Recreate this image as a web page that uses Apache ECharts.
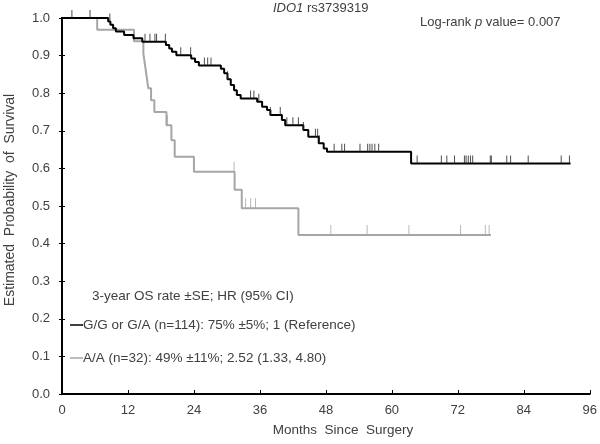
<!DOCTYPE html>
<html>
<head>
<meta charset="utf-8">
<script src="https://cdn.jsdelivr.net/npm/echarts@6/dist/echarts.min.js"></script>
<style>html,body{margin:0;padding:0;background:#fff}#c{width:600px;height:444px}</style>
</head>
<body>
<div id="c"></div>
<script>
// Kaplan-Meier steps: [month, survival]
var ggSteps = [
  [0, 1.0], [8.4, 0.991], [8.8, 0.982], [9.3, 0.973], [9.8, 0.964], [11.3, 0.955],
  [13.0, 0.946], [14.6, 0.937], [18.9, 0.928], [19.5, 0.919], [20.0, 0.910], [20.8, 0.901],
  [23.5, 0.892], [24.2, 0.883], [24.9, 0.874], [28.9, 0.865], [29.5, 0.853], [30.1, 0.837],
  [30.7, 0.822], [31.3, 0.808], [31.8, 0.795], [32.5, 0.786], [35.5, 0.777], [36.4, 0.764],
  [37.3, 0.755], [37.9, 0.742], [40.0, 0.729], [40.6, 0.715], [43.9, 0.702], [44.8, 0.684],
  [46.7, 0.667], [47.6, 0.653], [48.2, 0.644], [63.5, 0.613], [92.5, 0.613]
];
var ggCensor = [1.8, 5.1, 8.7, 15.1, 16.0, 16.9, 17.2, 18.8, 21.6, 23.4, 25.9, 26.5, 27.1,
  30.1, 34.3, 34.9, 35.8, 37.9, 39.7, 40.9, 42.0, 43.0, 43.9, 46.1, 46.5, 46.8, 49.5, 50.9,
  51.4, 54.2, 55.6, 56.0, 56.4, 56.9, 57.6, 64.6, 69.0, 70.0, 71.4, 73.2, 73.5, 73.9, 74.3,
  74.7, 77.9, 78.1, 80.9, 81.6, 84.8, 90.8, 92.3];
var aaSteps = [
  [0, 1.0], [6.4, 0.969], [13.1, 0.938], [14.8, 0.906], [15.1, 0.875], [15.4, 0.844],
  [15.7, 0.813], [16.2, 0.781], [16.8, 0.75], [19.0, 0.715], [19.9, 0.675], [20.5, 0.631],
  [24.0, 0.591], [31.4, 0.543], [32.7, 0.494], [43.0, 0.423], [78.0, 0.423]
];
var aaCensor = [19.2, 31.3, 33.4, 34.3, 35.2, 48.9, 55.5, 63.1, 72.5, 77.0, 77.7];
var xTicks = [0, 12, 24, 36, 48, 60, 72, 84, 96];
var yTicks = [0, 0.1, 0.2, 0.3, 0.4, 0.5, 0.6, 0.7, 0.8, 0.9, 1.0];

function survAt(steps, t) {
  var v = steps[0][1];
  for (var i = 0; i < steps.length; i++) { if (steps[i][0] <= t) v = steps[i][1]; }
  return v;
}
function censorPts(steps, times) { return times.map(function (t) { return [t, survAt(steps, t)]; }); }

var FONT = 'Liberation Sans, Arial, sans-serif';
var TXT = '#404040';
var chart = echarts.init(document.getElementById('c'), null, {renderer: 'canvas'});
var yAxisBase = {
  type: 'value', min: 0, max: 1, interval: 0.1,
  axisLine: {show: true, lineStyle: {color: '#000', width: 2}},
  splitLine: {show: false}
};
chart.setOption({
  animation: false,
  grid: {left: 62, right: 7, top: 18, bottom: 50, containLabel: false},
  xAxis: {
    type: 'value', min: 0, max: 96, interval: 12,
    axisLine: {show: true, lineStyle: {color: '#000', width: 2}},
    axisTick: {show: true, inside: true, length: 4, lineStyle: {color: '#000', width: 1}},
    axisLabel: {color: TXT, fontFamily: FONT, fontSize: 13, margin: 10,
      formatter: function (v) { return xTicks.indexOf(v) >= 0 ? String(v) : ''; }},
    splitLine: {show: false}
  },
  yAxis: [
    Object.assign({}, yAxisBase, {
      axisTick: {show: true, length: 3, lineStyle: {color: '#000', width: 1}},
      axisLabel: {color: TXT, fontFamily: FONT, fontSize: 13, margin: 12,
        formatter: function (v) { return yTicks.some(function (t) { return Math.abs(t - v) < 1e-9; }) ? v.toFixed(1) : ''; }}
    }),
    Object.assign({}, yAxisBase, {
      position: 'left',
      axisTick: {show: true, inside: true, length: 3, lineStyle: {color: '#000', width: 1}},
      axisLabel: {show: false}
    })
  ],
  series: [
    {type: 'line', step: 'end', data: aaSteps, showSymbol: false, symbol: 'none',
      lineStyle: {color: '#a6a6a6', width: 2}, z: 2},
    {type: 'line', step: 'end', data: ggSteps, showSymbol: false, symbol: 'none',
      lineStyle: {color: '#000', width: 2}, z: 3},
    {type: 'scatter', data: censorPts(aaSteps, aaCensor), symbol: 'rect', symbolSize: [1, 10],
      symbolOffset: [0, '-50%'], itemStyle: {color: '#a6a6a6'}, z: 2},
    {type: 'scatter', data: censorPts(ggSteps, ggCensor), symbol: 'rect', symbolSize: [1, 8],
      symbolOffset: [0, '-50%'], itemStyle: {color: '#222'}, z: 3}
  ],
  graphic: [
    {type: 'text', left: 273, top: 2, style: {rich: {i: {fontStyle: 'italic', fontFamily: FONT, fontSize: 13, fill: TXT}, n: {fontFamily: FONT, fontSize: 13, fill: TXT}},
      text: '{i|IDO1}{n| rs3739319}'}},
    {type: 'text', left: 420, top: 16, style: {rich: {i: {fontStyle: 'italic', fontFamily: FONT, fontSize: 13, fill: TXT}, n: {fontFamily: FONT, fontSize: 13, fill: TXT}},
      text: '{n|Log-rank }{i|p}{n| value= 0.007}'}},
    {type: 'text', left: 92, top: 289, style: {text: '3-year OS rate \u00b1SE; HR (95% CI)', font: '13.5px ' + FONT, fill: TXT}},
    {type: 'line', shape: {x1: 70, y1: 325, x2: 83, y2: 325}, style: {stroke: '#000', lineWidth: 1.5}},
    {type: 'text', left: 83, top: 318, style: {text: 'G/G or G/A (n=114): 75% \u00b15%; 1 (Reference)', font: '13.5px ' + FONT, fill: TXT}},
    {type: 'line', shape: {x1: 70, y1: 358, x2: 83, y2: 358}, style: {stroke: '#a6a6a6', lineWidth: 1.5}},
    {type: 'text', left: 83, top: 351, style: {text: 'A/A (n=32): 49% \u00b111%; 2.52 (1.33, 4.80)', font: '13.5px ' + FONT, fill: TXT}},
    {type: 'text', x: 343, y: 430, style: {text: 'Months  Since  Surgery', font: '13.5px ' + FONT, fill: TXT, align: 'center', verticalAlign: 'middle'}},
    {type: 'text', x: 10, y: 200, rotation: Math.PI / 2, style: {text: 'Estimated  Probability  of  Survival', font: '14px ' + FONT, fill: TXT, align: 'center', verticalAlign: 'middle'}}
  ]
});
</script>
</body>
</html>
